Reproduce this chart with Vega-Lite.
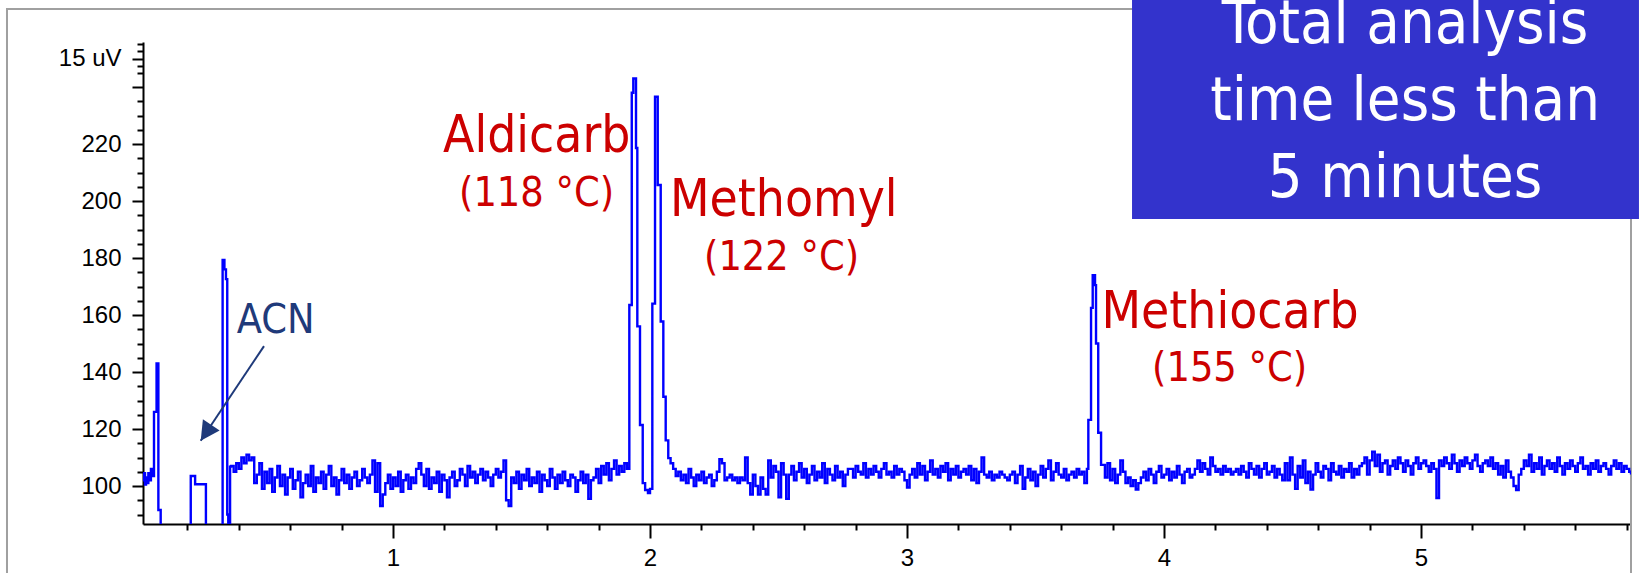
{
"$schema": "https://vega.github.io/schema/vega-lite/v6.json",
"width": 1488, "height": 482,
"autosize": {"type": "none"},
"padding": {"left": 143, "top": 42, "right": 8, "bottom": 49},
"background": "white",
"config": {"view": {"stroke": null}},
"resolve": {"axis": {"x": "independent", "y": "independent"}},
"layer": [
{"data": {"values": [{}]},
 "mark": {"type": "rect", "fillOpacity": 0, "stroke": "#A0A0A0", "strokeWidth": 2},
 "encoding": {
  "x": {"datum": -0.502, "type": "quantitative", "scale": {"domain": [0.0272, 5.817], "nice": false, "zero": false}, "axis": null},
  "x2": {"datum": 5.817},
  "y": {"datum": 267.4, "type": "quantitative", "scale": {"domain": [86.67, 255.79], "nice": false, "zero": false}, "axis": null},
  "y2": {"datum": 60}}},
{"data": {"values": [{}]},
 "mark": {"type": "point", "opacity": 0},
 "encoding": {
  "x": {"datum": 1, "type": "quantitative", "scale": {"domain": [0.0272, 5.817], "nice": false, "zero": false},
        "axis": {"orient": "bottom", "values": [0.2,0.4,0.6,0.8,1.2,1.4,1.6,1.8,2.2,2.4,2.6,2.8,3.2,3.4,3.6,3.8,4.2,4.4,4.6,4.8,5.2,5.4,5.6,5.8], "labels": false, "domain": false, "grid": false, "title": null, "tickSize": 6, "tickWidth": 2, "tickColor": "#000"}},
  "y": {"datum": 100, "type": "quantitative", "scale": {"domain": [86.67, 255.79], "nice": false, "zero": false},
        "axis": {"orient": "left", "values": [90,95,105,110,115,125,130,135,145,150,155,165,170,175,185,190,195,205,210,215,225,230,235,245,247.5,252.5,255], "labels": false, "domain": false, "grid": false, "title": null, "tickSize": 6, "tickWidth": 2, "tickColor": "#000"}}}},
{"data": {"values": [
{"t":0.027,"v":102},{"t":0.031,"v":104.5},{"t":0.035,"v":100.5},{"t":0.039,"v":103},{"t":0.043,"v":101},{"t":0.048,"v":104.5},{"t":0.053,"v":102},{"t":0.058,"v":106},{"t":0.063,"v":103.5},{"t":0.070,"v":126},{"t":0.080,"v":143},{"t":0.087,"v":91.6},{"t":0.096,"v":80},{"t":0.213,"v":103.5},{"t":0.230,"v":100.6},{"t":0.272,"v":80},{"t":0.337,"v":179.3},{"t":0.344,"v":176},{"t":0.350,"v":172.6},{"t":0.355,"v":90},{"t":0.359,"v":80},{"t":0.366,"v":106.8},
{"t":0.37,"v":107},{"t":0.38,"v":105},{"t":0.39,"v":108},{"t":0.40,"v":106},{"t":0.41,"v":110},{"t":0.42,"v":108},{"t":0.43,"v":111},{"t":0.44,"v":109},{"t":0.45,"v":110},{"t":0.46,"v":101},{"t":0.47,"v":104},{"t":0.48,"v":108},{"t":0.49,"v":99},{"t":0.50,"v":105},{"t":0.51,"v":101},{"t":0.52,"v":106},{"t":0.53,"v":98},{"t":0.54,"v":103},{"t":0.55,"v":107},{"t":0.56,"v":100},{"t":0.57,"v":104},{"t":0.58,"v":97},{"t":0.59,"v":103},{"t":0.60,"v":106},{"t":0.61,"v":99},{"t":0.62,"v":102},{"t":0.63,"v":105},{"t":0.64,"v":96},{"t":0.65,"v":101},{"t":0.66,"v":104},{"t":0.67,"v":100},{"t":0.68,"v":107},{"t":0.69,"v":98},{"t":0.70,"v":103},
{"t":0.71,"v":101},{"t":0.72,"v":105},{"t":0.73,"v":99},{"t":0.74,"v":104},{"t":0.75,"v":107},{"t":0.76,"v":100},{"t":0.77,"v":103},{"t":0.78,"v":97},{"t":0.79,"v":102},{"t":0.80,"v":106},{"t":0.81,"v":101},{"t":0.82,"v":104},{"t":0.83,"v":99},{"t":0.84,"v":103},{"t":0.85,"v":105},{"t":0.86,"v":100},{"t":0.87,"v":102},{"t":0.88,"v":106},{"t":0.89,"v":103},{"t":0.90,"v":101},{"t":0.91,"v":104},{"t":0.92,"v":109},{"t":0.93,"v":98},{"t":0.94,"v":108},{"t":0.95,"v":93},
{"t":0.96,"v":97},{"t":0.97,"v":101},{"t":0.98,"v":104},{"t":0.99,"v":99},{"t":1.00,"v":103},{"t":1.01,"v":100},{"t":1.02,"v":105},{"t":1.03,"v":98},{"t":1.04,"v":102},{"t":1.05,"v":104},{"t":1.06,"v":99},{"t":1.07,"v":103},{"t":1.08,"v":101},{"t":1.09,"v":106},{"t":1.10,"v":108},{"t":1.11,"v":104},{"t":1.12,"v":100},{"t":1.13,"v":106},{"t":1.14,"v":99},{"t":1.15,"v":103},{"t":1.16,"v":101},{"t":1.17,"v":105},{"t":1.18,"v":98},{"t":1.19,"v":104},{"t":1.20,"v":102},{"t":1.21,"v":96},{"t":1.22,"v":103},{"t":1.23,"v":105},{"t":1.24,"v":100},
{"t":1.25,"v":102},{"t":1.26,"v":106},{"t":1.27,"v":104},{"t":1.28,"v":100},{"t":1.29,"v":107},{"t":1.30,"v":103},{"t":1.31,"v":105},{"t":1.32,"v":101},{"t":1.33,"v":104},{"t":1.34,"v":106},{"t":1.35,"v":102},{"t":1.36,"v":105},{"t":1.37,"v":103},{"t":1.38,"v":100},{"t":1.39,"v":104},{"t":1.40,"v":106},{"t":1.41,"v":103},{"t":1.42,"v":105},{"t":1.43,"v":109},{"t":1.44,"v":95},{"t":1.45,"v":93},
{"t":1.46,"v":103},{"t":1.47,"v":101},{"t":1.48,"v":105},{"t":1.49,"v":99},{"t":1.50,"v":104},{"t":1.51,"v":102},{"t":1.52,"v":106},{"t":1.53,"v":100},{"t":1.54,"v":103},{"t":1.55,"v":101},{"t":1.56,"v":105},{"t":1.57,"v":98},{"t":1.58,"v":104},{"t":1.59,"v":102},{"t":1.60,"v":100},{"t":1.61,"v":106},{"t":1.62,"v":103},{"t":1.63,"v":99},{"t":1.64,"v":104},{"t":1.65,"v":101},{"t":1.66,"v":105},{"t":1.67,"v":102},{"t":1.68,"v":100},{"t":1.69,"v":104},{"t":1.70,"v":103},{"t":1.71,"v":98},{"t":1.72,"v":102},{"t":1.73,"v":105},{"t":1.74,"v":101},{"t":1.75,"v":104},{"t":1.76,"v":95.5},{"t":1.77,"v":102},
{"t":1.78,"v":103},{"t":1.79,"v":106},{"t":1.80,"v":101},{"t":1.81,"v":107},{"t":1.82,"v":104},{"t":1.83,"v":108},{"t":1.84,"v":102},{"t":1.85,"v":106},{"t":1.86,"v":109},{"t":1.87,"v":104},{"t":1.88,"v":107},{"t":1.89,"v":105},{"t":1.90,"v":108},{"t":1.91,"v":106},
{"t":1.9195,"v":163.5},{"t":1.929,"v":238},{"t":1.935,"v":243},{"t":1.9455,"v":218.6},{"t":1.9506,"v":156},{"t":1.961,"v":121.4},{"t":1.9716,"v":101},{"t":1.981,"v":98.6},{"t":1.992,"v":97.5},{"t":2.000,"v":99},{"t":2.009,"v":164},{"t":2.0195,"v":236.6},{"t":2.030,"v":205.6},{"t":2.0416,"v":157.7},{"t":2.0518,"v":131.3},{"t":2.061,"v":116},{"t":2.071,"v":109.8},{"t":2.08,"v":108},{"t":2.09,"v":106},{"t":2.10,"v":103.5},
{"t":2.11,"v":105},{"t":2.12,"v":102},{"t":2.13,"v":104},{"t":2.14,"v":101},{"t":2.15,"v":106},{"t":2.16,"v":103},{"t":2.17,"v":100},{"t":2.18,"v":104},{"t":2.19,"v":102},{"t":2.20,"v":105},{"t":2.21,"v":101},{"t":2.22,"v":103},{"t":2.23,"v":104},{"t":2.24,"v":100},{"t":2.25,"v":102},{"t":2.26,"v":105},{"t":2.27,"v":109.4},{"t":2.28,"v":108},{"t":2.29,"v":102},{"t":2.30,"v":103},{"t":2.31,"v":104},{"t":2.32,"v":102},{"t":2.33,"v":103},{"t":2.34,"v":101},{"t":2.35,"v":103},{"t":2.36,"v":102},{"t":2.37,"v":110},{"t":2.38,"v":101},{"t":2.39,"v":97},{"t":2.40,"v":104},{"t":2.41,"v":100},{"t":2.42,"v":97},{"t":2.43,"v":103},{"t":2.44,"v":99},{"t":2.45,"v":97},{"t":2.46,"v":109},{"t":2.47,"v":103},{"t":2.48,"v":107},{"t":2.49,"v":105},{"t":2.50,"v":96},{"t":2.51,"v":108},{"t":2.52,"v":104},{"t":2.53,"v":95.5},
{"t":2.54,"v":104},{"t":2.55,"v":107},{"t":2.56,"v":102},{"t":2.57,"v":105},{"t":2.58,"v":108},{"t":2.59,"v":103},{"t":2.60,"v":106},{"t":2.61,"v":101},{"t":2.62,"v":104},{"t":2.63,"v":107},{"t":2.64,"v":102},{"t":2.65,"v":105},{"t":2.66,"v":103},{"t":2.67,"v":108},{"t":2.68,"v":101},{"t":2.69,"v":106},{"t":2.70,"v":104},{"t":2.71,"v":102},{"t":2.72,"v":107},{"t":2.73,"v":103},{"t":2.74,"v":105},{"t":2.75,"v":100},{"t":2.76,"v":104},{"t":2.77,"v":106},
{"t":2.78,"v":106},{"t":2.79,"v":103},{"t":2.80,"v":107},{"t":2.81,"v":105},{"t":2.82,"v":104},{"t":2.83,"v":108},{"t":2.84,"v":103},{"t":2.85,"v":106},{"t":2.86,"v":104},{"t":2.87,"v":107},{"t":2.88,"v":105},{"t":2.89,"v":103},{"t":2.90,"v":106},{"t":2.91,"v":108},{"t":2.92,"v":104},{"t":2.93,"v":105},{"t":2.94,"v":103},{"t":2.95,"v":107},{"t":2.96,"v":104},{"t":2.97,"v":106},{"t":2.98,"v":105},{"t":2.99,"v":102},{"t":3.00,"v":99.5},{"t":3.01,"v":104},
{"t":3.02,"v":106},{"t":3.03,"v":103},{"t":3.04,"v":108},{"t":3.05,"v":104},{"t":3.06,"v":107},{"t":3.07,"v":102},{"t":3.08,"v":105},{"t":3.09,"v":109},{"t":3.10,"v":104},{"t":3.11,"v":106},{"t":3.12,"v":103},{"t":3.13,"v":107},{"t":3.14,"v":105},{"t":3.15,"v":108},{"t":3.16,"v":102},{"t":3.17,"v":106},{"t":3.18,"v":104},{"t":3.19,"v":107},{"t":3.20,"v":103},{"t":3.21,"v":105},{"t":3.22,"v":106},{"t":3.23,"v":104},{"t":3.24,"v":107},{"t":3.25,"v":102},{"t":3.26,"v":106},{"t":3.27,"v":101},{"t":3.28,"v":105},{"t":3.29,"v":110},
{"t":3.30,"v":104},{"t":3.31,"v":103},{"t":3.32,"v":105},{"t":3.33,"v":102},{"t":3.34,"v":104},{"t":3.35,"v":103},{"t":3.36,"v":105},{"t":3.37,"v":104},{"t":3.38,"v":103},{"t":3.39,"v":102},{"t":3.40,"v":104},{"t":3.41,"v":105},{"t":3.42,"v":101},{"t":3.43,"v":104},{"t":3.44,"v":107},{"t":3.45,"v":99},{"t":3.46,"v":103},{"t":3.47,"v":106},{"t":3.48,"v":102},{"t":3.49,"v":105},{"t":3.50,"v":100},{"t":3.51,"v":104},{"t":3.52,"v":107},{"t":3.53,"v":103},{"t":3.54,"v":106},{"t":3.55,"v":109},{"t":3.56,"v":102},{"t":3.57,"v":105},{"t":3.58,"v":108},{"t":3.59,"v":104},{"t":3.60,"v":103},{"t":3.61,"v":106},{"t":3.62,"v":102},{"t":3.63,"v":104},{"t":3.64,"v":105},{"t":3.65,"v":103},{"t":3.66,"v":106},{"t":3.67,"v":104},{"t":3.68,"v":105},{"t":3.69,"v":101},{"t":3.70,"v":106},
{"t":3.7055,"v":123.2},{"t":3.716,"v":162.5},{"t":3.7225,"v":174},{"t":3.7315,"v":170.5},{"t":3.7354,"v":150},{"t":3.744,"v":118.7},{"t":3.755,"v":107.4},
{"t":3.77,"v":103},{"t":3.78,"v":108},{"t":3.79,"v":102},{"t":3.80,"v":106},{"t":3.81,"v":101},{"t":3.82,"v":104},{"t":3.83,"v":109},{"t":3.84,"v":105},{"t":3.85,"v":101},{"t":3.86,"v":103},{"t":3.87,"v":100},{"t":3.88,"v":102},{"t":3.89,"v":98.8},{"t":3.90,"v":101},
{"t":3.91,"v":103},{"t":3.92,"v":105},{"t":3.93,"v":102},{"t":3.94,"v":106},{"t":3.95,"v":104},{"t":3.96,"v":101},{"t":3.97,"v":105},{"t":3.98,"v":107},{"t":3.99,"v":103},{"t":4.00,"v":104},{"t":4.01,"v":106},{"t":4.02,"v":102},{"t":4.03,"v":105},{"t":4.04,"v":103},{"t":4.05,"v":107},{"t":4.06,"v":104},{"t":4.07,"v":101},{"t":4.08,"v":105},{"t":4.09,"v":106},{"t":4.10,"v":103},{"t":4.11,"v":104},{"t":4.12,"v":106},
{"t":4.13,"v":109},{"t":4.14,"v":105},{"t":4.15,"v":108},{"t":4.16,"v":106},{"t":4.17,"v":104},{"t":4.18,"v":110},{"t":4.19,"v":107},{"t":4.20,"v":105},{"t":4.21,"v":106},{"t":4.22,"v":104},{"t":4.23,"v":107},{"t":4.24,"v":105},{"t":4.25,"v":106},{"t":4.26,"v":104},{"t":4.27,"v":105},{"t":4.28,"v":106},
{"t":4.29,"v":104},{"t":4.30,"v":107},{"t":4.31,"v":105},{"t":4.32,"v":103},{"t":4.33,"v":108},{"t":4.34,"v":106},{"t":4.35,"v":104},{"t":4.36,"v":107},{"t":4.37,"v":103},{"t":4.38,"v":106},{"t":4.39,"v":108},{"t":4.40,"v":104},{"t":4.41,"v":105},{"t":4.42,"v":107},{"t":4.43,"v":103},{"t":4.44,"v":106},{"t":4.45,"v":104},{"t":4.46,"v":102},
{"t":4.47,"v":108},{"t":4.48,"v":102},{"t":4.49,"v":110},{"t":4.50,"v":104},{"t":4.51,"v":99},{"t":4.52,"v":107},{"t":4.53,"v":103},{"t":4.54,"v":109},{"t":4.55,"v":101},{"t":4.56,"v":105},{"t":4.57,"v":98.8},
{"t":4.58,"v":104},{"t":4.59,"v":108},{"t":4.60,"v":105},{"t":4.61,"v":103},{"t":4.62,"v":107},{"t":4.63,"v":106},{"t":4.64,"v":102},{"t":4.65,"v":108},{"t":4.66,"v":105},{"t":4.67,"v":104},{"t":4.68,"v":107},{"t":4.69,"v":103},{"t":4.70,"v":106},{"t":4.71,"v":105},{"t":4.72,"v":108},{"t":4.73,"v":103},{"t":4.74,"v":106},{"t":4.75,"v":104},{"t":4.76,"v":107},
{"t":4.77,"v":108},{"t":4.78,"v":110},{"t":4.79,"v":104},{"t":4.80,"v":109},{"t":4.81,"v":112},{"t":4.82,"v":107},{"t":4.83,"v":111},{"t":4.84,"v":105},{"t":4.85,"v":108},{"t":4.86,"v":109},{"t":4.87,"v":104},
{"t":4.88,"v":107},{"t":4.89,"v":109},{"t":4.90,"v":106},{"t":4.91,"v":110},{"t":4.92,"v":108},{"t":4.93,"v":105},{"t":4.94,"v":109},{"t":4.95,"v":107},{"t":4.96,"v":104},{"t":4.97,"v":108},{"t":4.98,"v":110},{"t":4.99,"v":106},{"t":5.00,"v":108},{"t":5.01,"v":109},{"t":5.02,"v":107},{"t":5.03,"v":105},{"t":5.04,"v":108},{"t":5.05,"v":106},{"t":5.06,"v":95.8},
{"t":5.07,"v":109},{"t":5.08,"v":107},{"t":5.09,"v":110},{"t":5.10,"v":108},{"t":5.11,"v":106},{"t":5.12,"v":111},{"t":5.13,"v":108},{"t":5.14,"v":105},{"t":5.15,"v":109},{"t":5.16,"v":107},{"t":5.17,"v":110},{"t":5.18,"v":108},{"t":5.19,"v":106},{"t":5.20,"v":109},{"t":5.21,"v":111},{"t":5.22,"v":107},{"t":5.23,"v":105},{"t":5.24,"v":108},
{"t":5.25,"v":109},{"t":5.26,"v":107},{"t":5.27,"v":110},{"t":5.28,"v":106},{"t":5.29,"v":108},{"t":5.30,"v":104},{"t":5.31,"v":107},{"t":5.32,"v":103},{"t":5.33,"v":109},{"t":5.34,"v":105},{"t":5.35,"v":103},{"t":5.36,"v":100},{"t":5.37,"v":98.6},{"t":5.38,"v":104},
{"t":5.39,"v":106},{"t":5.40,"v":109},{"t":5.41,"v":107},{"t":5.42,"v":111},{"t":5.43,"v":105},{"t":5.44,"v":108},{"t":5.45,"v":106},{"t":5.46,"v":110},{"t":5.47,"v":104},{"t":5.48,"v":107},{"t":5.49,"v":109},{"t":5.50,"v":106},{"t":5.51,"v":108},{"t":5.52,"v":105},{"t":5.53,"v":110},{"t":5.54,"v":107},{"t":5.55,"v":104},{"t":5.56,"v":108},{"t":5.57,"v":106},{"t":5.58,"v":109},{"t":5.59,"v":107},{"t":5.60,"v":105},{"t":5.61,"v":108},{"t":5.62,"v":110},{"t":5.63,"v":106},{"t":5.64,"v":107},{"t":5.65,"v":104},{"t":5.66,"v":108},{"t":5.67,"v":106},{"t":5.68,"v":109},{"t":5.69,"v":105},{"t":5.70,"v":107},{"t":5.71,"v":108},{"t":5.72,"v":106},{"t":5.73,"v":104},{"t":5.74,"v":107},{"t":5.75,"v":109},{"t":5.76,"v":106},{"t":5.77,"v":108},{"t":5.78,"v":105},{"t":5.79,"v":107},{"t":5.80,"v":106},{"t":5.81,"v":105},{"t":5.817,"v":104}
]},
 "mark": {"type": "line", "interpolate": "step-after", "color": "#0000FF", "strokeWidth": 2.4, "clip": true},
 "encoding": {
  "x": {"field": "t", "type": "quantitative", "scale": {"domain": [0.0272, 5.817], "nice": false, "zero": false},
        "axis": {"orient": "bottom", "values": [1,2,3,4,5], "format": "d", "title": null, "grid": false, "domainColor": "#000", "domainWidth": 2, "tickColor": "#000", "tickWidth": 2, "tickSize": 14, "labelFont": "Liberation Sans", "labelFontSize": 24, "labelColor": "#000", "labelPadding": 8, "labelFlush": false, "labelOverlap": false}},
  "y": {"field": "v", "type": "quantitative", "scale": {"domain": [86.67, 255.79], "nice": false, "zero": false},
        "axis": {"orient": "left", "values": [100,120,140,160,180,200,220,240,250], "labelExpr": "datum.value == 250 ? '15 uV' : (datum.value == 240 ? '' : datum.label)", "title": null, "grid": false, "domainColor": "#000", "domainWidth": 2, "tickColor": "#000", "tickWidth": 2, "tickSize": 11, "labelFont": "Liberation Sans", "labelFontSize": 24, "labelColor": "#000", "labelPadding": 11, "labelOverlap": false, "labelFlush": false}}}},
{"data": {"values": [{}]},
 "mark": {"type": "rule", "color": "#1F3A7A", "strokeWidth": 2},
 "encoding": {
  "x": {"datum": 0.498, "type": "quantitative", "scale": {"domain": [0.0272, 5.817], "nice": false, "zero": false}, "axis": null},
  "x2": {"datum": 0.2517},
  "y": {"datum": 149.1, "type": "quantitative", "scale": {"domain": [86.67, 255.79], "nice": false, "zero": false}, "axis": null},
  "y2": {"datum": 115.9}}},
{"data": {"values": [{}]},
 "mark": {"type": "point", "shape": "M0,0 L0.53,1 L-0.53,1 Z", "size": 1444, "angle": 213.8, "filled": true, "color": "#1F3A7A", "opacity": 1, "strokeWidth": 0},
 "encoding": {
  "x": {"datum": 0.2517, "type": "quantitative", "scale": {"domain": [0.0272, 5.817], "nice": false, "zero": false}, "axis": null},
  "y": {"datum": 115.9, "type": "quantitative", "scale": {"domain": [86.67, 255.79], "nice": false, "zero": false}, "axis": null}}},
{"data": {"values": [{}]},
 "mark": {"type": "text", "text": "ACN", "font": "DejaVu Sans Condensed", "fontSize": 41, "color": "#1F3A7A", "align": "left", "baseline": "alphabetic"},
 "encoding": {
  "x": {"datum": 0.3918, "type": "quantitative", "scale": {"domain": [0.0272, 5.817], "nice": false, "zero": false}, "axis": null},
  "y": {"datum": 153.6, "type": "quantitative", "scale": {"domain": [86.67, 255.79], "nice": false, "zero": false}, "axis": null}}},
{"data": {"values": [{}]},
 "mark": {"type": "text", "text": "Aldicarb", "font": "DejaVu Sans Condensed", "fontSize": 51, "color": "#CC0000", "align": "left", "baseline": "alphabetic"},
 "encoding": {
  "x": {"datum": 1.1946, "type": "quantitative", "scale": {"domain": [0.0272, 5.817], "nice": false, "zero": false}, "axis": null},
  "y": {"datum": 217.2, "type": "quantitative", "scale": {"domain": [86.67, 255.79], "nice": false, "zero": false}, "axis": null}}},
{"data": {"values": [{}]},
 "mark": {"type": "text", "text": "(118 °C)", "font": "DejaVu Sans Condensed", "fontSize": 41, "color": "#CC0000", "align": "left", "baseline": "alphabetic"},
 "encoding": {
  "x": {"datum": 1.2568, "type": "quantitative", "scale": {"domain": [0.0272, 5.817], "nice": false, "zero": false}, "axis": null},
  "y": {"datum": 198.25, "type": "quantitative", "scale": {"domain": [86.67, 255.79], "nice": false, "zero": false}, "axis": null}}},
{"data": {"values": [{}]},
 "mark": {"type": "text", "text": "Methomyl", "font": "DejaVu Sans Condensed", "fontSize": 51, "color": "#CC0000", "align": "left", "baseline": "alphabetic"},
 "encoding": {
  "x": {"datum": 2.0778, "type": "quantitative", "scale": {"domain": [0.0272, 5.817], "nice": false, "zero": false}, "axis": null},
  "y": {"datum": 194.7, "type": "quantitative", "scale": {"domain": [86.67, 255.79], "nice": false, "zero": false}, "axis": null}}},
{"data": {"values": [{}]},
 "mark": {"type": "text", "text": "(122 °C)", "font": "DejaVu Sans Condensed", "fontSize": 41, "color": "#CC0000", "align": "left", "baseline": "alphabetic"},
 "encoding": {
  "x": {"datum": 2.2101, "type": "quantitative", "scale": {"domain": [0.0272, 5.817], "nice": false, "zero": false}, "axis": null},
  "y": {"datum": 175.8, "type": "quantitative", "scale": {"domain": [86.67, 255.79], "nice": false, "zero": false}, "axis": null}}},
{"data": {"values": [{}]},
 "mark": {"type": "text", "text": "Methiocarb", "font": "DejaVu Sans Condensed", "fontSize": 51, "color": "#CC0000", "align": "left", "baseline": "alphabetic"},
 "encoding": {
  "x": {"datum": 3.7568, "type": "quantitative", "scale": {"domain": [0.0272, 5.817], "nice": false, "zero": false}, "axis": null},
  "y": {"datum": 155.4, "type": "quantitative", "scale": {"domain": [86.67, 255.79], "nice": false, "zero": false}, "axis": null}}},
{"data": {"values": [{}]},
 "mark": {"type": "text", "text": "(155 °C)", "font": "DejaVu Sans Condensed", "fontSize": 41, "color": "#CC0000", "align": "left", "baseline": "alphabetic"},
 "encoding": {
  "x": {"datum": 3.9533, "type": "quantitative", "scale": {"domain": [0.0272, 5.817], "nice": false, "zero": false}, "axis": null},
  "y": {"datum": 136.7, "type": "quantitative", "scale": {"domain": [86.67, 255.79], "nice": false, "zero": false}, "axis": null}}},
{"data": {"values": [{}]},
 "mark": {"type": "rect", "color": "#3333CC", "opacity": 1},
 "encoding": {
  "x": {"datum": 3.8755, "type": "quantitative", "scale": {"domain": [0.0272, 5.817], "nice": false, "zero": false}, "axis": null},
  "x2": {"datum": 5.848},
  "y": {"datum": 270.5, "type": "quantitative", "scale": {"domain": [86.67, 255.79], "nice": false, "zero": false}, "axis": null},
  "y2": {"datum": 193.7}}},
{"data": {"values": [{}]},
 "mark": {"type": "text", "text": ["Total analysis", "time less than", "5 minutes"], "lineHeight": 77, "font": "DejaVu Sans Condensed", "fontSize": 61, "color": "#FFFFFF", "align": "center", "baseline": "alphabetic"},
 "encoding": {
  "x": {"datum": 4.938, "type": "quantitative", "scale": {"domain": [0.0272, 5.817], "nice": false, "zero": false}, "axis": null},
  "y": {"datum": 255.4, "type": "quantitative", "scale": {"domain": [86.67, 255.79], "nice": false, "zero": false}, "axis": null}}}
]
}
